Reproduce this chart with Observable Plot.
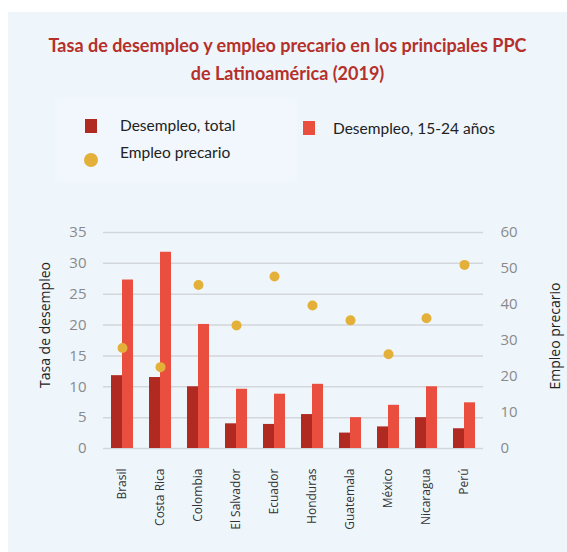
<!DOCTYPE html>
<html><head><meta charset="utf-8">
<script src="https://cdn.jsdelivr.net/npm/d3@7"></script>
<script src="https://cdn.jsdelivr.net/npm/@observablehq/plot@0.6"></script>
<style>
body{margin:0;background:#fff;font-family:"Open Sans",sans-serif;}
#page{position:relative;width:567px;height:552px;overflow:hidden;}
#panel{position:absolute;left:8px;top:12px;right:0;bottom:0;background:#eef6fc;}
#title{position:absolute;left:8px;right:0;top:31px;text-align:center;color:#b5302a;font-family:Lato,sans-serif;font-weight:700;font-size:18px;line-height:28px;}
#legbox{position:absolute;left:55px;top:98px;width:242px;height:84px;background:rgba(255,255,255,0.2);}
.sw{position:absolute;}
.lt{position:absolute;font-family:Lato,sans-serif;font-size:15.5px;line-height:18px;color:#222;white-space:nowrap;}
.at{position:absolute;width:200px;text-align:center;font-size:14px;line-height:20px;color:#222;transform:rotate(-90deg);white-space:nowrap;}
#chart{position:absolute;left:0;top:0;}
</style>
</head><body>
<div id="page">
  <div id="panel"></div>
  <div id="title">Tasa de desempleo y empleo precario en los principales PPC<br>de Latinoamérica (2019)</div>
  <div id="legbox"></div>
  <div id="chart"></div>
  <div class="sw" style="left:85px;top:119px;width:12px;height:14px;background:#b02a22"></div>
  <div class="lt" style="left:120px;top:116px">Desempleo, total</div>
  <div class="sw" style="left:303px;top:121px;width:12px;height:14px;background:#e94e3e"></div>
  <div class="lt" style="left:333px;top:119px">Desempleo, 15-24 años</div>
  <div class="sw" style="left:83.5px;top:153px;width:14px;height:14px;border-radius:50%;background:#e3b03a"></div>
  <div class="lt" style="left:120px;top:143px">Empleo precario</div>
  <div class="at" style="left:-55px;top:315px">Tasa de desempleo</div>
  <div class="at" style="left:455px;top:326px">Empleo precario</div>
</div>
<script>
const countries = ["Brasil","Costa Rica","Colombia","El Salvador","Ecuador","Honduras","Guatemala","México","Nicaragua","Perú"];
const desempleoTotal = [11.8, 11.5, 10.0, 4.0, 3.9, 5.5, 2.5, 3.5, 5.0, 3.2];
const desempleoJoven = [27.3, 31.8, 20.1, 9.6, 8.8, 10.4, 5.0, 7.0, 10.0, 7.4];
const empleoPrecario = [27.9, 22.6, 45.4, 34.2, 47.8, 39.7, 35.6, 26.2, 36.2, 51.0];
const leftTicks = [0, 5, 10, 15, 20, 25, 30, 35];
const rightTicks = [0, 10, 20, 30, 40, 50, 60];
const series = ["total", "joven"];

const k = 35 / 60;
const rows = countries.flatMap((c, i) => [
  {country: c, serie: "total", value: desempleoTotal[i]},
  {country: c, serie: "joven", value: desempleoJoven[i]}
]);
const dots = countries.map((c, i) => ({country: c, precario: empleoPrecario[i]}));

const chart = Plot.plot({
  width: 567, height: 552,
  marginTop: 232, marginBottom: 104, marginLeft: 100, marginRight: 82,
  style: {background: "transparent", fontFamily: "Open Sans, sans-serif"},
  fx: {domain: countries, padding: 0},
  x: {domain: series, paddingInner: 0, paddingOuter: 0.6, axis: null},
  y: {domain: [0, 35]},
  color: {domain: series, range: ["#b02a22", "#e94e3e"]},
  marks: [
    Plot.gridY(leftTicks, {stroke: "#d3d6da", strokeOpacity: 1, strokeWidth: 1.5}),
    Plot.barY(rows, {fx: "country", x: "serie", y: "value", fill: "serie"}),
    Plot.dot(dots, {fx: "country", y: d => d.precario * k, r: 5, fill: "#e3b03a"}),
    Plot.axisY(leftTicks, {anchor: "left", tickSize: 0, tickPadding: 17, fontSize: 15, fill: "#8a8a8a", label: null}),
    Plot.axisY(rightTicks.map(v => v * k), {anchor: "right", tickSize: 0, tickPadding: 17, fontSize: 15, fill: "#8a8a8a", label: null, tickFormat: v => String(Math.round(v / k))}),
    Plot.axisFx({anchor: "bottom", tickRotate: -90, tickSize: 0, tickPadding: 20, fontSize: 12, fill: "#333", label: null})
  ]
});
document.getElementById("chart").appendChild(chart);
</script>
</body></html>
